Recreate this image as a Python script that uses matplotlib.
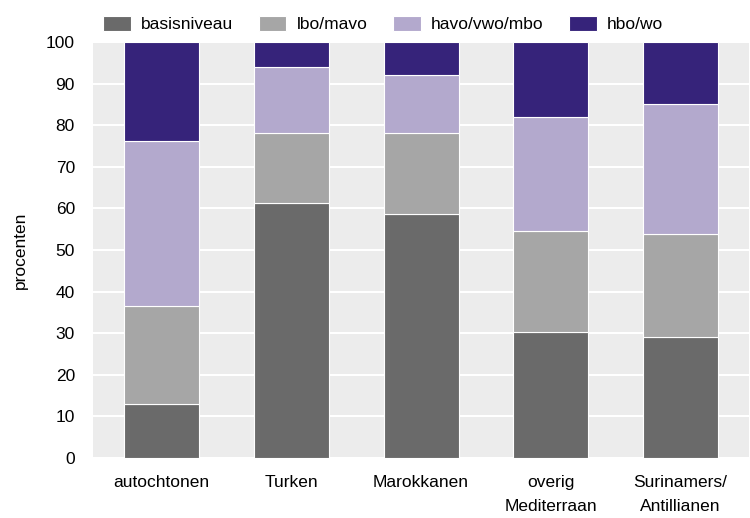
import matplotlib
matplotlib.use('Agg')
import matplotlib.pyplot as plt
import numpy as np

plt.rcParams['font.family'] = ['Liberation Sans', 'DejaVu Sans']
plt.rcParams['font.size'] = 12

groepen = ['autochtonen', 'Turken', 'Marokkanen', 'overig\nMediterraan', 'Surinamers/\nAntillianen']
niveaus = ['basisniveau', 'lbo/mavo', 'havo/vwo/mbo', 'hbo/wo']
basis = [13.0, 61.3, 58.7, 30.3, 29.1]
lbo = [23.5, 16.8, 19.4, 24.3, 24.7]
havo = [39.7, 15.9, 14.0, 27.4, 31.3]
hbo = [23.8, 6.0, 7.9, 18.0, 14.9]
kleuren = ['#6a6a6a', '#a6a6a6', '#b3a9cd', '#36237a']

fig = plt.figure(figsize=(7.5, 5.18), dpi=100)
ax = fig.add_axes([0.124, 0.116, 0.875, 0.803])
ax.set_facecolor('#ececec')

x = np.arange(len(groepen))
onder = np.zeros(len(groepen))
for naam, waarden, kleur in zip(niveaus, [basis, lbo, havo, hbo], kleuren):
    ax.bar(x, waarden, 0.58, bottom=onder, color=kleur, edgecolor='white',
           linewidth=0.8, label=naam, zorder=3)
    onder += np.array(waarden)

ax.set_xlim(-0.53, 4.53)
ax.set_ylim(0, 100)
ax.set_yticks(range(0, 101, 10))
ax.set_xticks(x)
ax.set_xticklabels(groepen, linespacing=1.75)
ax.yaxis.grid(True, color='white', linewidth=1.5, zorder=0)
ax.tick_params(length=0, labelsize=12.5)
ax.tick_params(axis='y', pad=13)
ax.tick_params(axis='x', pad=12)
for s in ax.spines.values():
    s.set_visible(False)
ax.set_ylabel('procenten', fontsize=12.5, labelpad=13)

ax.legend(loc='lower center', bbox_to_anchor=(0.442, 1.0), ncol=4, frameon=False,
          handlelength=1.6, handleheight=1.0, columnspacing=1.45, fontsize=12.5,
          borderaxespad=0.15, handletextpad=0.6)

fig.savefig('out.png', dpi=100)
